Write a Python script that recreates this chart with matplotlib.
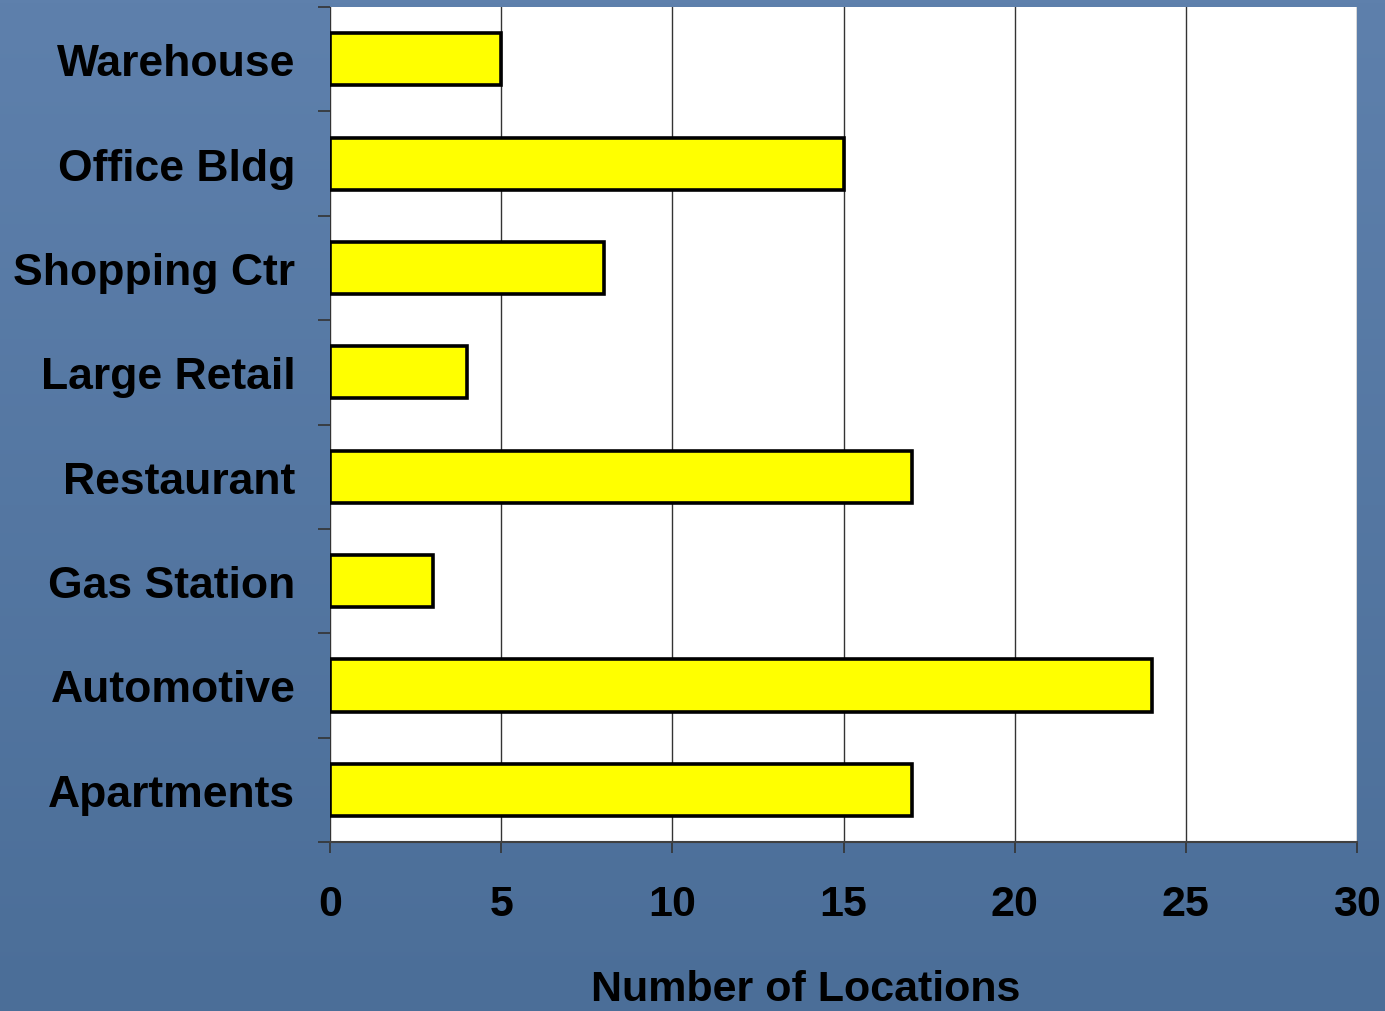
import numpy as np
import matplotlib.pyplot as plt
from matplotlib.colors import LinearSegmentedColormap

# data (top to bottom)
categories = ['Warehouse', 'Office Bldg', 'Shopping Ctr', 'Large Retail',
              'Restaurant', 'Gas Station', 'Automotive', 'Apartments']
locations = [5, 15, 8, 4, 17, 3, 24, 17]
x_ticks = [0, 5, 10, 15, 20, 25, 30]

plt.rcParams['font.family'] = ['Liberation Sans', 'DejaVu Sans']
plt.rcParams['font.weight'] = 'bold'

fig = plt.figure(figsize=(13.85, 10.12), dpi=100)

# slide-like blue background
bg = fig.add_axes([0, 0, 1, 1], zorder=-10)
grad = np.linspace(0, 1, 256).reshape(-1, 1)
cmap = LinearSegmentedColormap.from_list('slide', ['#5E80AC', '#4B6E98'])
bg.imshow(grad, aspect='auto', cmap=cmap, extent=[0, 1, 0, 1])
bg.axis('off')

ax = fig.add_axes([0.2383, 0.167, 0.7415, 0.825])
ax.set_facecolor('white')

y = np.arange(len(categories))
ax.barh(y, locations, height=0.5, color='#FFFF00', edgecolor='black',
        linewidth=2.6, zorder=3)

ax.set_xlim(0, 30)
ax.set_ylim(len(categories) - 0.5, -0.5)
ax.set_xticks(x_ticks)
ax.set_xticklabels([str(t) for t in x_ticks], fontsize=31, fontweight='bold')
ax.xaxis.grid(True, color='#333333', linewidth=1, zorder=0)

# category labels at bar centres, tick marks at the boundaries
ax.set_yticks(np.arange(-0.5, len(categories)), minor=False)
ax.set_yticklabels([])
ax.set_yticks(y, minor=True)
ax.set_yticklabels(categories, minor=True, fontsize=32, fontweight='bold')
ax.tick_params(axis='y', which='major', length=9, width=1.2, color='#333333', direction='out')
ax.tick_params(axis='y', which='minor', length=0, pad=25)
ax.tick_params(axis='x', length=8, width=1.2, color='#333333', pad=22)

for side in ['top', 'right', 'left']:
    ax.spines[side].set_visible(False)
ax.spines['bottom'].set_color('#404040')
ax.spines['bottom'].set_linewidth(1.5)

ax.set_xlabel('Number of Locations', fontsize=31, fontweight='bold')
ax.xaxis.set_label_coords(0.4635, -0.152)

fig.savefig('out.png', dpi=100)
